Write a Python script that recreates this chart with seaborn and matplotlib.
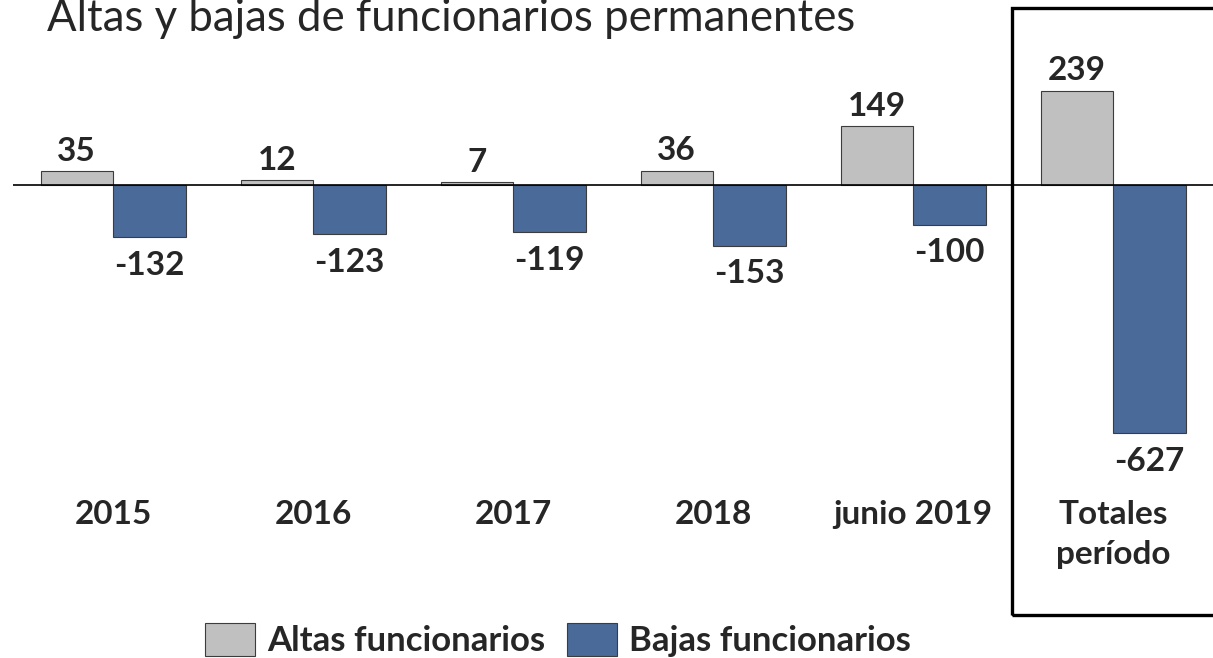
import pandas as pd
import matplotlib.pyplot as plt
import matplotlib.transforms as mtransforms
from matplotlib.patches import Rectangle, Patch
import seaborn as sns

# datos
periodos = ['2015', '2016', '2017', '2018', 'junio 2019', 'Totales\nperíodo']
altas = [35, 12, 7, 36, 149, 239]
bajas = [-132, -123, -119, -153, -100, -627]
series = ['Altas funcionarios', 'Bajas funcionarios']
colores = ['#C0C0C0', '#4A6A9A']

df = pd.DataFrame({
    'periodo': periodos * 2,
    'valor': altas + bajas,
    'tipo': [series[0]] * len(altas) + [series[1]] * len(bajas),
})

sns.set_theme(style='white')
plt.rcParams['font.family'] = ['Lato', 'DejaVu Sans']

fig = plt.figure(figsize=(12.13, 6.58), dpi=100)
ax = fig.add_axes([13 / 1213, 0, 1200 / 1213, 1])

sns.barplot(data=df, x='periodo', y='valor', hue='tipo', hue_order=series,
            palette=colores, saturation=1, width=0.725, edgecolor='#3c3c3c',
            linewidth=0.8, legend=False, ax=ax)

ax.set_ylim(-1196, 468)
ax.set_xlim(-0.5, 5.5)
ax.axhline(0, color='black', lw=1.2)
ax.axis('off')

ax.bar_label(ax.containers[0], fmt='%d', padding=4, fontsize=24, fontweight='bold')
ax.bar_label(ax.containers[1], fmt='%d', padding=10, fontsize=24, fontweight='bold')

# etiquetas de categorias
trans = mtransforms.blended_transform_factory(ax.transData, fig.transFigure)
for i, p in enumerate(periodos):
    ax.text(i, 1 - 500 / 658, p, transform=trans, ha='center', va='top',
            fontsize=24, fontweight='bold', linespacing=1.45)

# caja de totales
fig.patches.append(Rectangle((1012 / 1213, 1 - 615 / 658), 0.2, (615 - 8) / 658,
                             transform=fig.transFigure, fill=False,
                             edgecolor='black', lw=2.4))

fig.text(47 / 1213, 1 - 31 / 658, 'Altas y bajas de funcionarios permanentes',
         fontsize=31.5, va='baseline', ha='left')

handles = [Patch(facecolor=c, edgecolor='#3c3c3c', lw=0.8) for c in colores]
fig.legend(handles, series, loc='center', bbox_to_anchor=(558 / 1213, 1 - 640 / 658),
           ncol=2, frameon=False, prop={'size': 25, 'weight': 'bold'},
           handlelength=1.45, handleheight=1.1, handletextpad=0.35,
           columnspacing=0.6, borderpad=0)

fig.savefig('out.png', dpi=100)
